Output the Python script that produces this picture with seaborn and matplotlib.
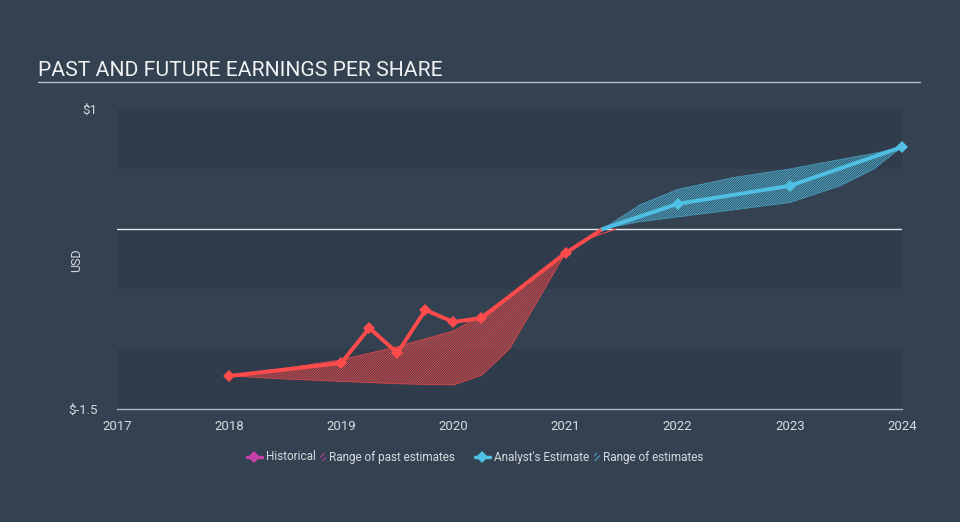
import matplotlib
matplotlib.use("Agg")
import matplotlib.pyplot as plt
from matplotlib.lines import Line2D
from matplotlib.patches import Rectangle
import seaborn as sns
import pandas as pd

sns.set_theme(style="dark")
plt.rcParams['font.family'] = ['Roboto', 'DejaVu Sans']
plt.rcParams['hatch.linewidth'] = 0.6

# ---- data ----
hist_years = [2018.0, 2019.0, 2019.25, 2019.5, 2019.75, 2020.0, 2020.25, 2021.0, 2021.33]
hist_eps = [-1.225, -1.117, -0.825, -1.033, -0.675, -0.775, -0.742, -0.20, 0.0]

past_rng_years = [2018.0, 2018.5, 2019.0, 2019.5, 2020.0, 2020.25, 2020.5, 2020.75, 2021.0, 2021.2, 2021.45]
past_rng_low = [-1.225, -1.25, -1.27, -1.29, -1.30, -1.22, -1.00, -0.60, -0.20, -0.08, 0.0]
past_rng_high = [-1.225, -1.16, -1.09, -0.98, -0.85, -0.72, -0.55, -0.38, -0.20, -0.08, 0.0]

est_years = [2021.33, 2022.0, 2023.0, 2024.0]
est_eps = [0.0, 0.21, 0.36, 0.683]

est_rng_years = [2021.33, 2021.66, 2022.0, 2022.5, 2023.0, 2023.45, 2023.75, 2024.0]
est_rng_low = [0.0, 0.06, 0.10, 0.16, 0.22, 0.36, 0.50, 0.683]
est_rng_high = [0.0, 0.20, 0.33, 0.43, 0.50, 0.58, 0.63, 0.683]

x_ticks = [2017, 2018, 2019, 2020, 2021, 2022, 2023, 2024]
y_min, y_max = -1.5, 1.0
y_labels = ["$-1.5", "$1"]
legend_labels = ["Historical", "Range of past estimates", "Analyst's Estimate", "Range of estimates"]

# ---- style ----
BG = "#344150"
BAND = "#303c4b"
RED = "#ff4b4b"
BLUE = "#4fbfe3"
MAGENTA = "#c740a8"
TXT = "#d6dadf"

fig = plt.figure(figsize=(9.6, 5.22), dpi=100, facecolor=BG)
ax = fig.add_axes([117/960, 1-409/522, (902-117)/960, 300/522])
ax.set_facecolor(BG)

for lo in [-1.5, -0.5, 0.5]:
    ax.axhspan(lo, lo + 0.5, color=BAND, zorder=0, lw=0)

ax.axhline(0, color="#e6e8ea", lw=1.0, zorder=1)

# ranges
ax.fill_between(past_rng_years, past_rng_low, past_rng_high, facecolor=(1, 0.29, 0.29, 0.10),
                edgecolor=(1, 0.29, 0.29, 0.85), hatch="/" * 14, linewidth=0.5, zorder=2)
ax.fill_between(est_rng_years, est_rng_low, est_rng_high, facecolor=(0.31, 0.75, 0.89, 0.08),
                edgecolor=(0.31, 0.75, 0.89, 0.85), hatch="/" * 14, linewidth=0.6,
                linestyle=(0, (2, 1)), zorder=2)

hist_df = pd.DataFrame({"year": hist_years, "eps": hist_eps})
est_df = pd.DataFrame({"year": est_years, "eps": est_eps})
sns.lineplot(data=hist_df, x="year", y="eps", ax=ax, color=RED, lw=2.8, marker="D",
             markersize=6, markeredgewidth=0, zorder=4)
sns.lineplot(data=est_df, x="year", y="eps", ax=ax, color=BLUE, lw=2.8, marker="D",
             markersize=6.5, markeredgewidth=0, zorder=4)
ax.lines[-1].set_markevery([1, 2, 3])
ax.lines[-1].set_clip_on(False)
ax.lines[-2].set_markevery(list(range(len(hist_years) - 1)))

ax.set_xlim(2017, 2024)
ax.set_ylim(y_min, y_max)
ax.set_xticks(x_ticks)
ax.set_xticklabels([str(t) for t in x_ticks])
ax.set_yticks([y_min, y_max])
ax.set_yticklabels(y_labels)
ax.tick_params(axis="x", colors="#a8b2bd", length=7, width=1, labelcolor=TXT, labelsize=9.5, pad=1)
ax.tick_params(axis="y", length=0, labelcolor=TXT, labelsize=9.5, pad=14)
ax.set_xlabel("")
ax.set_ylabel("")
for s in ["top", "right", "left"]:
    ax.spines[s].set_visible(False)
ax.spines["bottom"].set_color("#a8b2bd")
ax.spines["bottom"].set_linewidth(1)
ax.grid(False)

fig.text(77/960, 1-260/522, "USD", color=TXT, fontsize=9, rotation=90, ha="center", va="center")

# title
fig.text(38/960, 1-70/522, "PAST AND FUTURE EARNINGS PER SHARE", color="#f0f2f4",
         fontsize=15.2, va="center", ha="left")
fig.add_artist(Line2D([38/960, 920/960], [1-81.5/522, 1-81.5/522], color="#b6bcc4", lw=1))

# legend (manual placement)
ly = 1 - 457/522
def fx(px):
    return px / 960

def marker_handle(x0, color):
    fig.add_artist(Line2D([fx(x0), fx(x0 + 15)], [ly, ly], color=color, lw=2.5))
    fig.add_artist(Line2D([fx(x0 + 7.5)], [ly], color=color, marker="D", markersize=6,
                          markeredgewidth=0))

def hatch_handle(x0, color):
    fig.add_artist(Rectangle((fx(x0), ly - 4/522), 6/960, 8/522, transform=fig.transFigure,
                             facecolor="none", edgecolor=color, hatch="//////", lw=0))

marker_handle(247, MAGENTA)
fig.text(fx(266), ly, legend_labels[0], color=TXT, fontsize=8.5, va="center", ha="left")
hatch_handle(320, MAGENTA)
fig.text(fx(329), ly, legend_labels[1], color=TXT, fontsize=8.5, va="center", ha="left")
marker_handle(475, BLUE)
fig.text(fx(494), ly, legend_labels[2], color=TXT, fontsize=8.5, va="center", ha="left")
hatch_handle(594, BLUE)
fig.text(fx(603), ly, legend_labels[3], color=TXT, fontsize=8.5, va="center", ha="left")

fig.savefig("out.png", dpi=100, facecolor=BG)
